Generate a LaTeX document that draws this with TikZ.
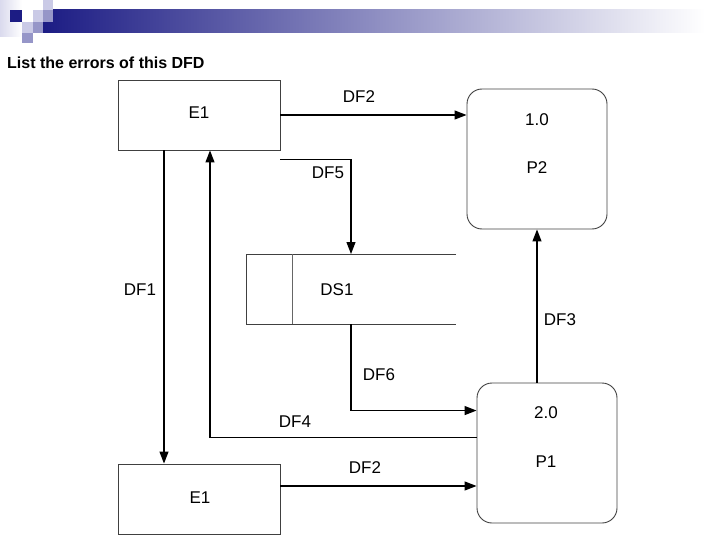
\documentclass[tikz,border=0pt]{standalone}
\usepackage{fontspec}
\setmainfont{Liberation Sans}
\usetikzlibrary{arrows.meta, positioning, calc}
\definecolor{navy}{RGB}{28,28,132}
\definecolor{lavlight}{RGB}{202,202,230}
\definecolor{lavmid}{RGB}{150,150,200}

\begin{document}
\begin{tikzpicture}[
	x=1pt, y=-1pt,
	every node/.style={font=\fontsize{17}{20}\selectfont},
	entity/.style={rectangle, draw=black!75, line width=0.9pt, minimum width=162pt, minimum height=70pt, inner sep=0pt},
	process/.style={rectangle, draw=black!75, line width=0.9pt, rounded corners=15pt, minimum width=140pt, minimum height=140pt, inner sep=0pt},
	store/.style={rectangle, minimum width=210pt, minimum height=70pt, inner sep=0pt, outer sep=0pt},
	flow/.style={-{Triangle[length=12pt,width=9pt]}, line width=1.2pt},
	lbl/.style={inner sep=0pt}
]
\useasboundingbox (0,0) rectangle (720,540);

% Slide decoration
\shade[left color=navy, right color=white] (43,10) rectangle (705,33);
\shade[left color=lavlight!70, right color=white] (0,0) rectangle (22,37);
\fill[navy] (10,10) rectangle (22,22);
\fill[lavlight] (22,22) rectangle (33,33);
\fill[lavlight] (33,10) rectangle (43,22);
\fill[lavlight] (43,0) rectangle (53,10);
\fill[lavmid] (43,10) rectangle (53,22);
\fill[lavmid] (33,22) rectangle (43,33);
\fill[lavmid] (22,33) rectangle (33,43);

% Title
\node[lbl, anchor=base west, font=\fontsize{16}{19}\selectfont\bfseries] (title) at (7,69) {List the errors of this DFD};

% Entities, processes and store
\node[entity] (e1top) at (199,115) {};
\node[entity] (e1bot) at (199,499) {};
\node[process] (p2) at (537,159) {};
\node[process] (p1) at (547,453) {};
\node[store] (ds1) at (351,289) {};
\draw[draw=black!75, line width=0.9pt] (ds1.north east) -- (ds1.north west) -- (ds1.south west) -- (ds1.south east);
\draw[draw=black!60, line width=0.8pt] ([xshift=46pt]ds1.north west) -- ([xshift=46pt]ds1.south west);

% Texts in boxes
\node[lbl] (e1toptext) at (199,113) {E1};
\node[lbl] (e1bottext) at (200,498) {E1};
\node[lbl] (p2id) at (537,120) {1.0};
\node[lbl] (p2name) at (537,168) {P2};
\node[lbl] (p1id) at (546,413) {2.0};
\node[lbl] (p1name) at (546,462) {P1};
\node[lbl] (ds1text) at (337,290) {DS1};

% Data flows
\draw[flow] (e1top.east) -- (e1top.east -| p2.west);
\draw[flow] ([yshift=-9pt]e1top.south east) -| (ds1.north);
\draw[flow] ([xshift=-35pt]e1top.south) -- ([xshift=-35pt]e1bot.north);
\draw[flow] (ds1.south) |- ([yshift=-28pt]p1.north west);
\draw[flow] ([yshift=-55pt]p1.north west) -| ([xshift=11pt]e1top.south);
\draw[flow] ([yshift=13pt]e1bot.east) -- ([yshift=13pt]e1bot.east -| p1.west);
\draw[flow] (p1.north -| p2.south) -- (p2.south);

% Flow labels
\node[lbl] (df2top) at (359,97) {DF2};
\node[lbl] (df5) at (328,173) {DF5};
\node[lbl] (df1) at (140,290) {DF1};
\node[lbl] (df3) at (560,320) {DF3};
\node[lbl] (df6) at (379,375) {DF6};
\node[lbl] (df4) at (295,422) {DF4};
\node[lbl] (df2bot) at (365,468) {DF2};

\end{tikzpicture}
\end{document}
